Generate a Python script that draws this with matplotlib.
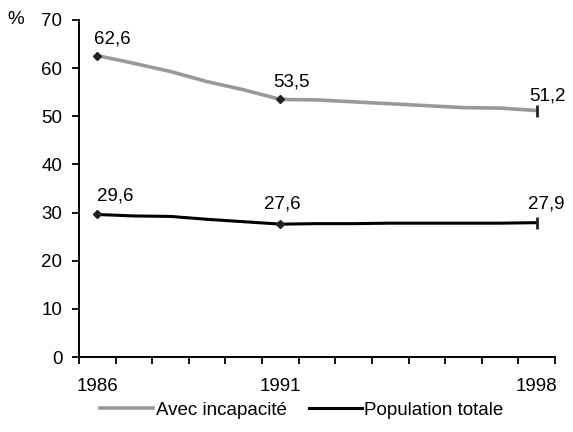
import numpy as np
import matplotlib.pyplot as plt
from matplotlib.ticker import FixedLocator

plt.rcParams['font.family'] = ['Liberation Sans', 'DejaVu Sans']
taille = 13.5

# Donnees
annees = list(range(1986, 1999))
avec_incapacite = [62.6, 61.0, 59.3, 57.2, 55.5, 53.5, 53.4, 53.0, 52.6, 52.2, 51.8, 51.7, 51.2]
population_totale = [29.6, 29.3, 29.2, 28.6, 28.1, 27.6, 27.7, 27.7, 27.8, 27.8, 27.8, 27.8, 27.9]
annees_etiquetees = [1986, 1991, 1998]

fig = plt.figure(figsize=(5.73, 4.32), dpi=100)
ax = fig.add_axes([79/573, 1 - 357/432, (555 - 79)/573, (357 - 20)/432])

x = np.arange(len(annees))
gris = '#999999'

ax.plot(x, avec_incapacite, color=gris, lw=2.6, zorder=2, label='Avec incapacité')
ax.plot(x, population_totale, color='black', lw=2.2, zorder=2, label='Population totale')

# marqueurs : losanges sur 1986 et 1991, trait vertical sur 1998
idx = [annees.index(a) for a in annees_etiquetees]
for serie in (avec_incapacite, population_totale):
    ax.plot([idx[0], idx[1]], [serie[idx[0]], serie[idx[1]]], ls='none', marker='D',
            ms=4.5, color='#222222', zorder=3)
    ax.plot([idx[2]], [serie[idx[2]]], ls='none', marker='|', ms=8, mew=2,
            color='#222222', zorder=3)

# etiquettes de valeurs (decalages en pixels)
decal_gris = [(15, 17), (11, 17), (11, 15)]
decal_noir = [(18, 18), (2, 20), (10, 19)]
for serie, decal in ((avec_incapacite, decal_gris), (population_totale, decal_noir)):
    for i, (dx, dy) in zip(idx, decal):
        ax.annotate(f'{serie[i]:.1f}'.replace('.', ','), (x[i], serie[i]),
                    xytext=(dx, dy), textcoords='offset pixels',
                    ha='center', va='center', fontsize=taille)

ax.set_xlim(-0.5, len(annees) - 0.5)
ax.set_ylim(0, 70)
ax.set_yticks(np.arange(0, 71, 10))
ax.set_xticks(idx)
ax.set_xticklabels([str(a) for a in annees_etiquetees])
ax.xaxis.set_minor_locator(FixedLocator(np.arange(-0.5, len(annees), 1)))

ax.tick_params(axis='x', which='major', length=0, pad=15, labelsize=taille)
ax.tick_params(axis='x', which='minor', length=5, width=1.3, direction='out')
ax.tick_params(axis='y', length=5, width=1.3, direction='out', pad=7, labelsize=taille)

for s in ('top', 'right'):
    ax.spines[s].set_visible(False)
for s in ('left', 'bottom'):
    ax.spines[s].set_linewidth(1.4)

fig.text(16/573, 1 - 19/432, '%', ha='center', va='center', fontsize=taille)

fig.legend(loc='center', bbox_to_anchor=(302/573, 1 - 410/432), ncol=2, frameon=False,
           fontsize=taille, handlelength=2.8, handletextpad=0.15, columnspacing=1.2)

fig.savefig('out.png', dpi=100)
